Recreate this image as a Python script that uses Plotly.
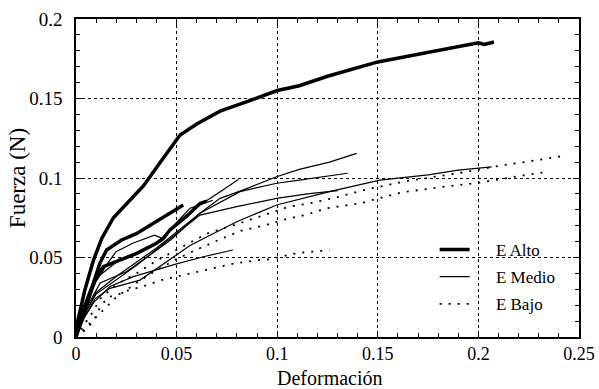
import plotly.graph_objects as go

# ---- data ----
x_ticks = [0, 0.05, 0.1, 0.15, 0.2, 0.25]
x_ticktext = ["0", "0.05", "0.1", "0.15", "0.2", "0.25"]
y_ticks = [0, 0.05, 0.1, 0.15, 0.2]
y_ticktext = ["0", "0.05", "0.1", "0.15", "0.2"]

# E Alto (thick)
alto1_x = [0, 0.001, 0.0045, 0.0086, 0.0128, 0.0186, 0.0268, 0.0335, 0.042, 0.0467, 0.0517, 0.06, 0.0716, 0.085, 0.1, 0.111, 0.125, 0.15, 0.175, 0.2, 0.203, 0.2077]
alto1_y = [0, 0.011, 0.030, 0.048, 0.062, 0.075, 0.086, 0.095, 0.110, 0.118, 0.127, 0.134, 0.142, 0.148, 0.155, 0.158, 0.164, 0.173, 0.179, 0.185, 0.184, 0.1855]
alto2_x = [0, 0.0036, 0.0086, 0.0119, 0.0152, 0.0227, 0.03, 0.037, 0.045, 0.0533]
alto2_y = [0, 0.017, 0.0338, 0.0465, 0.0547, 0.061, 0.065, 0.0704, 0.076, 0.083]
alto3_x = [0, 0.004, 0.0094, 0.0136, 0.0219, 0.0302, 0.040, 0.0434, 0.0467, 0.055, 0.0616, 0.065]
alto3_y = [0, 0.015, 0.036, 0.0442, 0.0484, 0.0526, 0.059, 0.062, 0.0673, 0.076, 0.084, 0.0855]

# E Medio (thin)
medio1_x = [0, 0.005, 0.012, 0.025, 0.035, 0.047, 0.0616, 0.0716, 0.0832, 0.0997, 0.111, 0.126, 0.1395]
medio1_y = [0, 0.018, 0.034, 0.041, 0.05, 0.061, 0.0778, 0.0872, 0.0925, 0.1008, 0.1054, 0.110, 0.1155]
medio2_x = [0, 0.005, 0.01, 0.02, 0.03, 0.04, 0.05, 0.0616, 0.0815, 0.0997, 0.111, 0.126, 0.135]
medio2_y = [0, 0.016, 0.028, 0.038, 0.047, 0.056, 0.066, 0.0778, 0.0914, 0.0967, 0.0987, 0.1013, 0.103]
medio3_x = [0, 0.004, 0.0094, 0.0169, 0.0318, 0.0467, 0.0567, 0.0666, 0.0799, 0.0997, 0.126, 0.151, 0.175, 0.19, 0.2066]
medio3_y = [0, 0.012, 0.024, 0.0306, 0.0358, 0.049, 0.0575, 0.064, 0.0725, 0.083, 0.0914, 0.0987, 0.102, 0.105, 0.107]
medio4_x = [0, 0.005, 0.01, 0.02, 0.03, 0.04, 0.05, 0.0616, 0.0799, 0.0997, 0.115, 0.13]
medio4_y = [0, 0.016, 0.027, 0.036, 0.045, 0.055, 0.065, 0.0767, 0.082, 0.0872, 0.090, 0.092]
medio5_x = [0, 0.005, 0.01, 0.02, 0.03, 0.04, 0.0467, 0.0616, 0.07, 0.0807]
medio5_y = [0, 0.02, 0.037, 0.047, 0.052, 0.059, 0.067, 0.083, 0.09, 0.099]
medio6_x = [0, 0.004, 0.009, 0.0169, 0.0285, 0.04, 0.05, 0.0633, 0.078]
medio6_y = [0, 0.012, 0.022, 0.0318, 0.038, 0.0425, 0.046, 0.0505, 0.0547]
medio7_x = [0, 0.005, 0.01, 0.0157, 0.0199, 0.0282, 0.039, 0.043, 0.05, 0.0567, 0.068]
medio7_y = [0, 0.02, 0.035, 0.0463, 0.0537, 0.059, 0.064, 0.062, 0.072, 0.081, 0.086]

# E Bajo (dotted)
bajo1_x = [0, 0.003, 0.008, 0.012, 0.02, 0.03, 0.04, 0.053, 0.065, 0.08, 0.0964, 0.106, 0.116, 0.13, 0.145, 0.164, 0.19, 0.212, 0.228, 0.243]
bajo1_y = [0, 0.006, 0.015, 0.024, 0.033, 0.04, 0.048, 0.057, 0.065, 0.071, 0.078, 0.082, 0.084, 0.088, 0.093, 0.098, 0.103, 0.108, 0.111, 0.114]
bajo2_x = [0, 0.004, 0.01, 0.02, 0.03, 0.04, 0.05, 0.06, 0.0716, 0.0823, 0.093, 0.104, 0.1138, 0.1246, 0.141, 0.162, 0.183, 0.2, 0.219, 0.235]
bajo2_y = [0, 0.005, 0.013, 0.025, 0.034, 0.042, 0.049, 0.055, 0.0614, 0.0669, 0.070, 0.074, 0.0767, 0.081, 0.084, 0.091, 0.0945, 0.097, 0.101, 0.104]
bajo3_x = [0, 0.0058, 0.009, 0.0116, 0.0157, 0.0215, 0.0265, 0.033, 0.043, 0.0533, 0.0633, 0.079, 0.0906, 0.0964, 0.1055, 0.111, 0.121, 0.126]
bajo3_y = [0, 0.0055, 0.0107, 0.018, 0.025, 0.027, 0.0296, 0.0317, 0.036, 0.039, 0.042, 0.0463, 0.0484, 0.0488, 0.0516, 0.053, 0.054, 0.055]

x_title = "Deformación"
y_title = "Fuerza (N)"
series_names = ["E Alto", "E Medio", "E Bajo"]

NBSP = "\u00a0" * 5
groups = [
    (series_names[0], [(alto1_x, alto1_y), (alto2_x, alto2_y), (alto3_x, alto3_y)], dict(width=3.5, color="black", dash="solid")),
    (series_names[1], [(medio1_x, medio1_y), (medio2_x, medio2_y), (medio3_x, medio3_y), (medio4_x, medio4_y),
                       (medio5_x, medio5_y), (medio6_x, medio6_y), (medio7_x, medio7_y)], dict(width=1.2, color="black", dash="solid")),
    (series_names[2], [(bajo1_x, bajo1_y), (bajo2_x, bajo2_y), (bajo3_x, bajo3_y)], dict(width=1.8, color="black", dash="2px,7px")),
]

fig = go.Figure()
for name, curves, style in groups:
    for i, (xs, ys) in enumerate(curves):
        fig.add_trace(go.Scatter(x=xs, y=ys, mode="lines", name=NBSP + name, legendgroup=name,
                                 showlegend=(i == 0), line=style))

font_family = "Liberation Serif"
axis_common = dict(
    showline=True, linecolor="black", linewidth=1.5, mirror="allticks",
    ticks="inside", ticklen=6, tickwidth=1, tickcolor="black",
    showgrid=True, gridcolor="black", gridwidth=1, griddash="dot",
    zeroline=False, automargin=False,
    minor=dict(ticks="inside", ticklen=4, tickwidth=1, tickcolor="black", showgrid=False, dtick=0.01),
)

fig.update_layout(
    width=599, height=389,
    margin=dict(l=76, r=20, t=19, b=52),
    paper_bgcolor="white", plot_bgcolor="white",
    font=dict(family=font_family, color="black"),
    xaxis=dict(range=[0, 0.25], tickvals=x_ticks, ticktext=x_ticktext,
               tickfont=dict(family=font_family, size=18, color="black"),
               ticklabelstandoff=0, **axis_common),
    yaxis=dict(range=[0, 0.2], tickvals=y_ticks, ticktext=y_ticktext,
               tickfont=dict(family=font_family, size=19, color="black"),
               ticklabelstandoff=8, **axis_common),
    legend=dict(x=0.713, y=0.33, xanchor="left", yanchor="top", bgcolor="rgba(0,0,0,0)",
                font=dict(family=font_family, size=17, color="black"), tracegroupgap=2),
    showlegend=True,
    annotations=[
        dict(text=x_title, xref="paper", yref="paper", x=0.505, y=-0.128,
             xanchor="center", yanchor="middle", showarrow=False,
             font=dict(family=font_family, size=20, color="black")),
        dict(text=y_title, xref="paper", yref="paper", x=-0.117, y=0.5, textangle=-90,
             xanchor="center", yanchor="middle", showarrow=False,
             font=dict(family=font_family, size=23, color="black")),
    ],
)

fig.write_html("out.html", config={"displayModeBar": False},
               post_script="document.body.style.margin='0px';document.body.style.overflow='hidden';")
